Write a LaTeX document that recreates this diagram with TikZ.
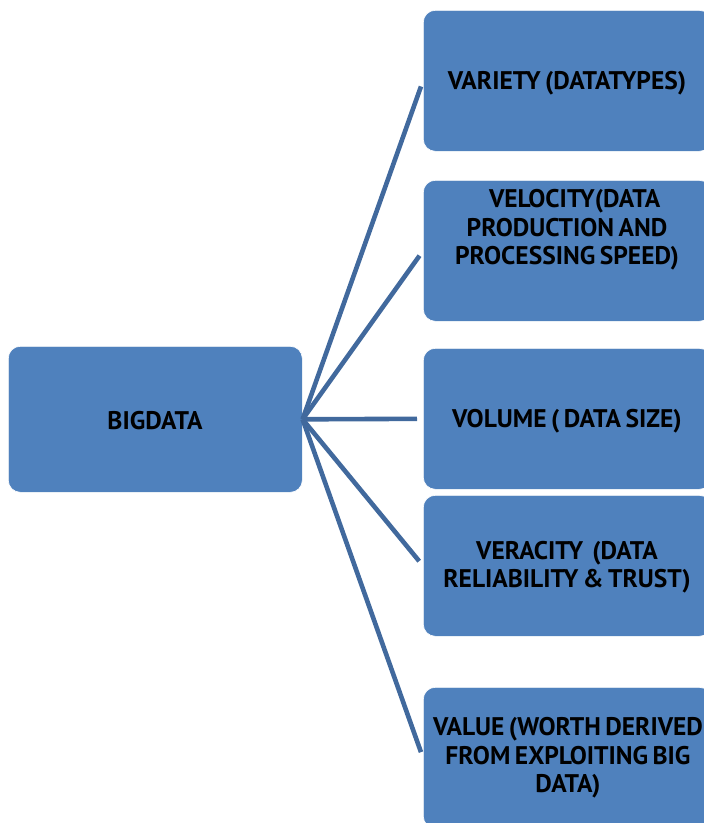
\documentclass[tikz,border=0pt]{standalone}
\usepackage{fontspec}
\setmainfont{PT Sans}[WordSpace=0.7]
\usetikzlibrary{positioning}
\definecolor{boxblue}{HTML}{4F81BD}
\definecolor{linkblue}{HTML}{41699D}
\tikzset{
  card/.style={draw=white, line width=0.6pt, fill=boxblue, rounded corners=12pt,
    minimum width=288pt, minimum height=141pt, anchor=north west, inner sep=0pt},
  hubcard/.style={card, minimum width=294pt, minimum height=146pt},
  label/.style={font=\bfseries\fontsize{25.5}{28.5}\selectfont, align=center,
    text=black, inner sep=0pt},
  link/.style={draw=linkblue, line width=4.6pt, shorten >=6pt}
}
\begin{document}
\begin{tikzpicture}[x=1pt, y=-1pt]
  \useasboundingbox (0,0) rectangle (704,823);
  % boxes
  \node[hubcard] (big) at (8,346) {};
  \node[card] (var) at (423,10) {};
  \node[card] (vel) at (423,180) {};
  \node[card] (vol) at (423,348) {};
  \node[card] (ver) at (423,495) {};
  \node[card] (val) at (423,687) {};
  % texts
  \node[label] (bigt) at (155,421) {BIGDATA};
  \node[label] (vart) at (567,83) {VARIETY (DATATYPES)};
  \node[label] (velt) at (567,230) {\hspace*{0.6em}VELOCITY(DATA\\PRODUCTION AND\\PROCESSING SPEED)};
  \node[label] (volt) at (567,421) {VOLUME ( DATA SIZE)};
  \node[label] (vert) at (567,567) {VERACITY\ \ (DATA\\RELIABILITY \& TRUST)};
  \node[label] (valt) at (568,758) {VALUE (WORTH DERIVED\\FROM EXPLOITING BIG\\DATA)};
  % connectors
  \coordinate (hub) at (big.east);
  \draw[link] (hub) -- (var.west);
  \draw[link] (hub) -- (vel.west);
  \draw[link] (hub) -- (vol.west);
  \draw[link] (hub) -- (ver.west);
  \draw[link] (hub) -- (val.west);
\end{tikzpicture}
\end{document}
